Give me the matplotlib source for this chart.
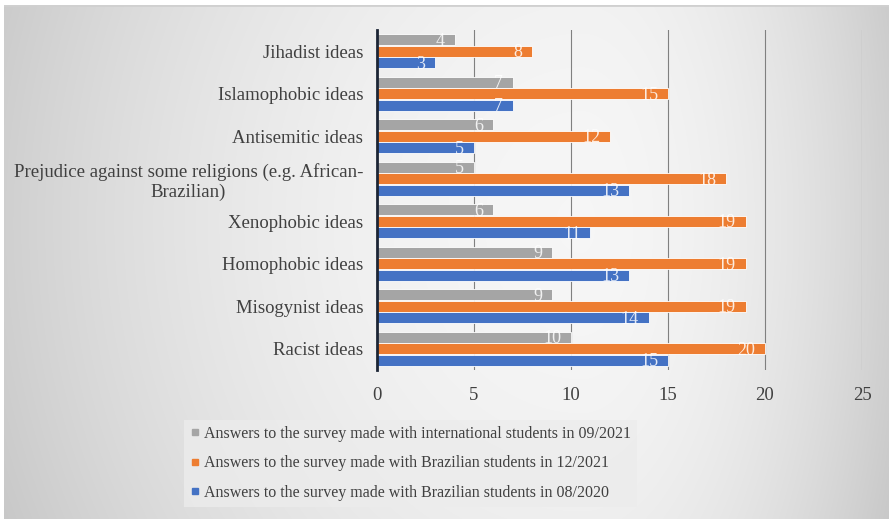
import numpy as np
import matplotlib
matplotlib.use("Agg")
import matplotlib.pyplot as plt
from matplotlib.lines import Line2D

categories = ["Jihadist ideas", "Islamophobic ideas", "Antisemitic ideas",
              "Prejudice against some religions (e.g. African-\nBrazilian)",
              "Xenophobic ideas", "Homophobic ideas", "Misogynist ideas", "Racist ideas"]
intl_0921 = [4, 7, 6, 5, 6, 9, 9, 10]
braz_1221 = [8, 15, 12, 18, 19, 19, 19, 20]
braz_0820 = [3, 7, 5, 13, 11, 13, 14, 15]
series_names = ["Answers to the survey made with international students in 09/2021",
                "Answers to the survey made with Brazilian students in 12/2021",
                "Answers to the survey made with Brazilian students in 08/2020"]
xticks = [0, 5, 10, 15, 20, 25]

colors = ["#A5A5A5", "#ED7D31", "#4472C4"]
plt.rcParams['font.family'] = ['Liberation Serif', 'DejaVu Serif']
txt = "#404040"

fig = plt.figure(figsize=(8.89, 5.19), dpi=100)
fig.patch.set_facecolor("white")

# background gradient
H, W = 519, 889
bg = fig.add_axes([4 / W, 0, 1 - 4 / W, 1 - 5 / H], zorder=-10)
yy, xx = np.mgrid[0:H, 0:W]
cx, cy = 580.0, 220.0
dx = np.where(xx < cx, (xx - cx) / cx, (xx - cx) / (W - cx))
dy = (yy - cy) / 400.0
r2 = dx ** 2 + 0.35 * dy ** 2
val = 0.965 - 0.15 * np.clip(r2, 0, 1.3)
bg.imshow(np.dstack([val, val, val]), aspect='auto', extent=[0, 1, 0, 1], origin='upper')
bg.set_axis_off()
bg.set_xlim(0, 1); bg.set_ylim(0, 1)
bg.axhline(1, color="#d0d0d0", lw=2)

ax = fig.add_axes([377 / W, 1 - 370 / H, (862 - 377) / W, 340 / H])
ax.set_facecolor("none")
n = len(categories)
idx = np.arange(n)
step = 0.27
h = 0.25
series = [intl_0921, braz_1221, braz_0820]
offsets = [-step, 0, step]
for vals, c, off, name in zip(series, colors, offsets, series_names):
    ax.barh(idx + off, vals, height=h, color=c, edgecolor="white", linewidth=0.6, zorder=3, label=name)
    for yi, v in zip(idx + off, vals):
        ax.annotate(str(v), (v, yi), xytext=(-7, -1), textcoords="offset points",
                    ha="right", va="center", fontsize=13, color="white", alpha=0.85, zorder=4)

ax.set_xlim(0, 25)
ax.set_ylim(n - 0.5, -0.5)
ax.set_xticks(xticks)
ax.set_yticks(idx)
ax.set_yticklabels(categories, multialignment="center")
ax.tick_params(axis="both", length=0, labelsize=13.5, colors=txt)
ax.tick_params(axis="y", pad=10)
ax.tick_params(axis="x", pad=12)
ax.grid(axis="x", color="#808080", linewidth=0.8, zorder=0)
for s in ["top", "right", "bottom"]:
    ax.spines[s].set_visible(False)
ax.spines["left"].set_color("#1c2535")
ax.spines["left"].set_linewidth(2)
ax.spines["left"].set_zorder(5)

handles = [Line2D([], [], marker="s", linestyle="none", markersize=5, color=c) for c in colors]
leg = fig.legend(handles, series_names, loc="center", bbox_to_anchor=(0.462, 0.107),
                 fontsize=11.5, frameon=True, fancybox=False, handlelength=0.5,
                 handletextpad=0.3, labelspacing=0.85, borderpad=0.4)
leg.get_frame().set_facecolor("#ececec")
leg.get_frame().set_edgecolor("none")
for t in leg.get_texts():
    t.set_color(txt)

fig.savefig("out.png", dpi=100)
